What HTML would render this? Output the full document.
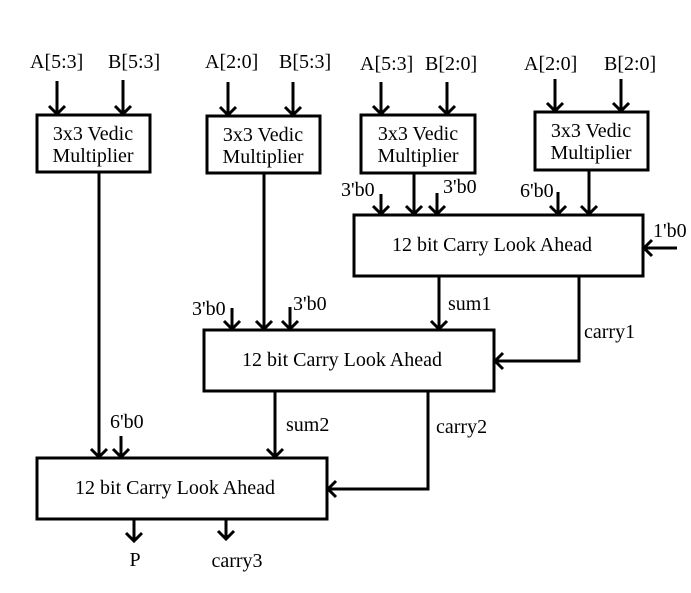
<!DOCTYPE html>
<html><head><style>body{margin:0;background:#fff}svg{display:block}text{font-family:"Liberation Serif",serif;font-size:20px;fill:#000}</style></head><body>
<svg width="691" height="593" viewBox="0 0 691 593" xmlns="http://www.w3.org/2000/svg">
<g fill="none" stroke="#000" stroke-width="3">
<rect x="37" y="115" width="113" height="57"/>
<rect x="207" y="116" width="113" height="57"/>
<rect x="361" y="115" width="114" height="58"/>
<rect x="535" y="112" width="113" height="58"/>
<rect x="354" y="215" width="289" height="61"/>
<rect x="204" y="330" width="290" height="61"/>
<rect x="37" y="458" width="290" height="61"/>
<path d="M57 81V114M123 80V114M228 82V115M293 82V115M381 82V114M447 82V114M555 79V111M621 79V111"/>
<path d="M99 172V457M121 436V457M264 173V329M232 308V329M290 307V329M414 173V214M381 194V214M437 193V214M558 192V214M589 170V214M677 248H644"/>
<path d="M439 276V329M579 276V361H495M275 391V457M428 391V489H328M134 519V541M226 519V539"/>
<path d="M49 106l8 8 8-8M115 106l8 8 8-8M220 107l8 8 8-8M285 107l8 8 8-8M373 106l8 8 8-8M439 106l8 8 8-8M547 103l8 8 8-8M613 103l8 8 8-8"/>
<path d="M91 449l8 8 8-8M113 449l8 8 8-8M256 321l8 8 8-8M224 321l8 8 8-8M282 321l8 8 8-8M406 206l8 8 8-8M373 206l8 8 8-8M429 206l8 8 8-8M550 206l8 8 8-8M581 206l8 8 8-8"/>
<path d="M652 240l-8 8 8 8M431 321l8 8 8-8M503 353l-8 8 8 8M267 449l8 8 8-8M336 481l-8 8 8 8M126 533l8 8 8-8M218 531l8 8 8-8"/>
</g>
<text x="30" y="68">A[5:3]</text><text x="108" y="68">B[5:3]</text>
<text x="205" y="68">A[2:0]</text><text x="279" y="68">B[5:3]</text>
<text x="360" y="70">A[5:3]</text><text x="425" y="70">B[2:0]</text>
<text x="524" y="70">A[2:0]</text><text x="604" y="70">B[2:0]</text>
<text x="93" y="140" text-anchor="middle">3x3 Vedic</text><text x="93" y="162" text-anchor="middle">Multiplier</text>
<text x="263" y="141" text-anchor="middle">3x3 Vedic</text><text x="263" y="163" text-anchor="middle">Multiplier</text>
<text x="418" y="140" text-anchor="middle">3x3 Vedic</text><text x="418" y="162" text-anchor="middle">Multiplier</text>
<text x="591" y="137" text-anchor="middle">3x3 Vedic</text><text x="591" y="159" text-anchor="middle">Multiplier</text>
<text x="341" y="196">3'b0</text><text x="443" y="193">3'b0</text><text x="520" y="197">6'b0</text><text x="653" y="237">1'b0</text>
<text x="492" y="251" text-anchor="middle">12 bit Carry Look Ahead</text>
<text x="192" y="315">3'b0</text><text x="293" y="310">3'b0</text>
<text x="448" y="310">sum1</text><text x="584" y="338">carry1</text>
<text x="342" y="366" text-anchor="middle">12 bit Carry Look Ahead</text>
<text x="110" y="428">6'b0</text><text x="286" y="431">sum2</text><text x="436" y="433">carry2</text>
<text x="175" y="494" text-anchor="middle">12 bit Carry Look Ahead</text>
<text x="135" y="566" text-anchor="middle">P</text><text x="237" y="567" text-anchor="middle">carry3</text>
</svg>
</body></html>
